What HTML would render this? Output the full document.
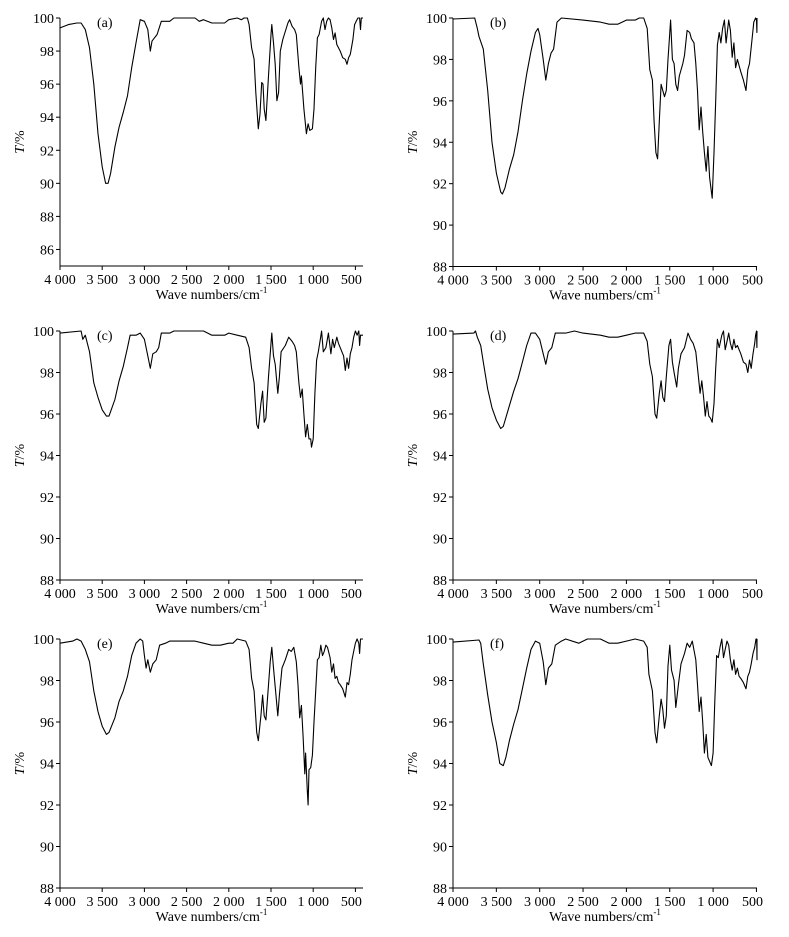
<!DOCTYPE html>
<html><head><meta charset="utf-8"><style>
html,body{margin:0;padding:0;background:#fff;}
svg{display:block;}
svg text{font-family:"Liberation Serif","Times New Roman",serif;}
</style></head><body>
<svg id="s" width="789" height="937" viewBox="0 0 789 937" xmlns="http://www.w3.org/2000/svg" font-family="Liberation Serif, serif"></svg>
<script>
const D={
a:[4000,99.4,3900,99.6,3800,99.7,3750,99.7,3700,99.3,3650,98.2,3600,96,3550,93,3500,91,3460,90.0,3430,90.0,3400,90.6,3350,92.2,3300,93.4,3250,94.3,3200,95.3,3150,97,3100,98.5,3050,99.9,3000,99.8,2960,99.3,2930,98.0,2910,98.6,2880,98.8,2850,99.0,2800,99.8,2700,99.8,2650,100,2400,100,2350,99.8,2300,99.9,2200,99.7,2050,99.7,2000,99.9,1900,100,1850,99.9,1820,100,1780,100,1760,99.6,1730,98.2,1700,97.5,1680,95.5,1650,93.3,1630,94.2,1610,96.1,1595,96.0,1580,94.5,1560,93.8,1530,96.5,1500,99.0,1490,99.6,1470,98.5,1450,97.2,1430,95.0,1410,95.5,1390,98.0,1360,98.7,1300,99.7,1280,99.9,1250,99.5,1220,99.3,1200,99.0,1170,97.0,1150,96.0,1140,96.5,1110,94.5,1080,93.0,1060,93.6,1040,93.2,1010,93.3,990,94.5,970,97,950,98.8,930,99,900,99.8,880,100,860,99.3,840,99.8,820,100,800,99.9,780,99.4,760,98.7,740,99.1,720,98.4,700,98.2,680,98.0,650,97.6,620,97.5,600,97.2,580,97.6,560,97.8,530,98.7,510,99.6,490,99.8,470,100,450,100,440,99.3,430,100,400,100],
b:[4000,99.95,3750,100,3720,99.5,3700,99.1,3650,98.5,3600,96.5,3550,94,3500,92.5,3450,91.6,3430,91.5,3400,91.8,3350,92.7,3300,93.4,3250,94.5,3200,96,3150,97.3,3100,98.4,3050,99.3,3020,99.5,3000,99.2,2960,98,2930,97.0,2900,97.8,2870,98.3,2840,98.5,2800,99.8,2750,100,2500,99.9,2300,99.8,2200,99.7,2100,99.7,2000,99.9,1900,99.9,1850,100,1800,100,1760,99.5,1730,97.5,1700,97.0,1680,95,1660,93.5,1640,93.2,1620,95,1600,96.8,1580,96.5,1560,96.2,1540,96.5,1520,98.0,1500,99.3,1490,99.9,1470,98.0,1450,97.8,1430,96.8,1410,96.5,1390,97.2,1350,97.8,1330,98.2,1300,99.4,1270,99.3,1250,99.0,1220,98.8,1200,97.8,1180,96.5,1160,94.6,1140,95.7,1120,94.5,1100,93.5,1080,92.6,1060,93.8,1040,92.3,1010,91.3,990,93.5,970,96,950,98.7,930,99.3,910,98.8,890,99.5,870,99.9,850,98.8,820,99.9,800,99.4,780,98.1,760,98.8,740,97.6,720,98.0,700,97.7,680,97.4,650,97.0,620,96.5,600,97.5,580,97.8,550,99,530,99.8,510,100,500,99.9,495,99.3,490,100],
c:[4000,99.9,3750,100,3730,99.6,3700,99.8,3650,99,3600,97.5,3550,96.8,3500,96.2,3450,95.9,3420,95.9,3350,96.7,3300,97.6,3250,98.3,3200,99.2,3170,99.8,3100,99.8,3050,99.9,3000,99.6,2960,98.8,2930,98.2,2900,98.9,2860,99.0,2830,99.2,2800,99.9,2700,99.9,2650,100,2300,100,2200,99.8,2050,99.8,2000,99.9,1900,99.8,1800,99.7,1760,99.2,1730,98.2,1700,97.5,1670,95.5,1650,95.3,1620,96.5,1600,97.1,1580,95.6,1560,95.8,1530,97.8,1500,99.4,1490,99.9,1470,98.8,1450,98.4,1420,97.0,1400,97.8,1380,99.0,1330,99.3,1290,99.7,1250,99.5,1220,99.3,1200,99.0,1170,97.5,1150,96.8,1130,97.2,1110,96.0,1090,94.9,1070,95.5,1050,94.8,1030,94.8,1020,94.4,1000,94.8,980,97,960,98.6,940,99.0,920,99.5,900,100,880,99.0,850,99.2,820,99.9,790,98.9,770,99.6,750,99.2,720,99.7,700,99.4,680,99.2,660,99.0,640,98.8,620,98.1,600,98.7,580,98.2,560,98.9,540,99.2,520,99.7,500,100,480,99.8,460,100,450,99.3,440,99.8,400,99.8],
d:[4000,99.85,3760,99.9,3740,100,3720,99.7,3680,99.3,3650,98.5,3600,97.2,3550,96.3,3500,95.7,3450,95.3,3420,95.4,3350,96.4,3300,97.1,3250,97.7,3200,98.5,3150,99.3,3100,99.9,3050,99.9,3000,99.6,2960,98.9,2930,98.4,2900,99.0,2860,99.2,2820,99.9,2700,99.9,2600,100,2500,99.9,2300,99.8,2200,99.7,2100,99.7,2000,99.8,1900,99.9,1800,99.9,1760,99.5,1730,98.4,1700,97.8,1670,96.0,1650,95.8,1620,97.0,1600,97.6,1580,96.8,1560,96.6,1540,97.8,1510,99.3,1490,99.6,1470,98.5,1450,98.0,1420,97.3,1400,98.2,1370,98.9,1330,99.2,1290,99.9,1260,99.6,1230,99.4,1200,99.0,1170,97.8,1150,97.0,1130,97.6,1110,96.8,1090,95.9,1070,96.6,1050,95.9,1030,95.8,1010,95.6,990,96.5,970,98.2,950,99.6,930,99.2,900,99.8,880,100,860,99.1,840,99.5,820,99.9,800,99.4,780,99.1,760,99.6,740,99.2,720,99.3,700,99.1,680,98.9,650,98.5,620,98.4,600,98.0,580,98.6,560,98.2,540,98.9,520,99.4,510,99.8,500,100,495,99.2,490,100],
e:[4000,99.8,3850,99.9,3800,100,3750,99.9,3700,99.5,3650,98.9,3600,97.5,3550,96.5,3500,95.8,3450,95.4,3420,95.5,3350,96.2,3300,97.0,3250,97.5,3200,98.2,3150,99.2,3100,99.8,3050,100,3020,99.9,3000,99.2,2980,98.6,2960,99.0,2930,98.4,2900,98.8,2860,99.0,2820,99.7,2750,99.8,2700,99.9,2400,99.9,2300,99.8,2200,99.7,2100,99.7,2000,99.8,1950,99.8,1900,100,1800,99.9,1760,99.5,1730,98.1,1700,97.5,1670,95.5,1650,95.1,1620,96.3,1600,97.3,1580,96.3,1560,96.1,1540,97.2,1510,98.9,1490,99.6,1470,98.6,1450,97.7,1420,96.3,1400,97.3,1370,98.6,1330,99.0,1290,99.5,1260,99.4,1230,99.6,1200,98.9,1180,97.8,1160,96.2,1140,96.8,1120,95.3,1100,93.5,1090,94.5,1070,92.7,1060,92.0,1050,93.7,1030,93.8,1010,94.4,990,96,970,97.5,950,99.0,930,99.1,910,99.7,890,99.2,870,99.4,850,99.7,830,99.6,800,99.1,780,98.4,760,98.8,740,98.1,720,98.2,700,97.9,680,97.8,650,97.6,620,97.2,600,97.9,580,97.8,560,98.3,540,99.0,520,99.4,500,99.8,480,100,460,99.8,450,99.3,440,100,400,100],
f:[4000,99.85,3700,99.95,3680,99.8,3650,98.8,3600,97.3,3550,96,3500,95.0,3460,94.0,3420,93.9,3390,94.3,3350,95.1,3300,95.9,3250,96.6,3200,97.6,3150,98.6,3100,99.5,3050,99.9,3000,99.8,2960,98.9,2930,97.8,2900,98.6,2860,98.8,2820,99.7,2750,99.9,2700,100,2550,99.8,2450,100,2300,100,2200,99.8,2100,99.8,2000,99.9,1900,100,1800,99.9,1760,99.6,1740,98.3,1700,97.5,1670,95.5,1650,95.0,1620,96.3,1600,97.1,1580,96.6,1560,95.7,1540,96.3,1520,98.7,1500,99.7,1480,98.5,1450,98.0,1430,96.7,1400,97.8,1370,98.8,1330,99.3,1300,99.8,1270,99.6,1240,99.9,1200,99.0,1180,97.8,1160,96.5,1140,97.2,1120,96.0,1100,94.5,1080,95.4,1060,94.3,1040,94.1,1020,93.9,1000,94.5,980,97,960,99.2,940,99.1,920,99.6,900,100,880,99.1,860,99.5,840,99.9,820,99.7,800,99.0,780,98.5,760,99.0,740,98.3,720,98.6,700,98.2,680,98.1,650,97.9,620,97.6,600,98.2,580,98.4,560,98.8,540,99.3,520,99.6,505,100,497,100,494,99.0,490,100]
};
const P=[
{k:'a',x0:60,x1:363,s:0.0844,top:18,bot:266,ymin:85},
{k:'b',x0:453,x1:757,s:0.0867,top:18,bot:266.5,ymin:88},
{k:'c',x0:60,x1:363,s:0.0844,top:331,bot:580,ymin:88},
{k:'d',x0:453,x1:757,s:0.0867,top:331,bot:580,ymin:88},
{k:'e',x0:60,x1:363,s:0.0844,top:639,bot:888,ymin:88},
{k:'f',x0:453,x1:757,s:0.0867,top:639,bot:888,ymin:88}];
const F='font-family="Liberation Serif, Times New Roman, serif"';
let h='';
for(const p of P){
 const X=w=>Math.min(p.x1,p.x0+(4000-w)*p.s);
 const Y=t=>p.bot-(t-p.ymin)/(100-p.ymin)*(p.bot-p.top);
 h+=`<path d="M${p.x0},${p.top}V${p.bot}H${p.x1}" fill="none" stroke="#000" stroke-width="1"/>`;
 for(let t=p.ymin%2?p.ymin+1:p.ymin;t<=100;t+=2){const y=Y(t);
  h+=`<line x1="${p.x0-4}" y1="${y}" x2="${p.x0}" y2="${y}" stroke="#000"/>`;
  h+=`<text ${F} x="${p.x0-6}" y="${y+5}" font-size="14" text-anchor="end">${t}</text>`;}
 const lab=['4 000','3 500','3 000','2 500','2 000','1 500','1 000','500'];
 for(let i=0;i<8;i++){const w=4000-500*i,x=X(w);
  h+=`<line x1="${x}" y1="${p.bot}" x2="${x}" y2="${p.bot+4}" stroke="#000"/>`;
  h+=`<text ${F} x="${i==7?x-4:x}" y="${p.bot+18}" font-size="14" text-anchor="middle">${lab[i]}</text>`;}
 h+=`<text ${F} x="${(p.x0+p.x1)/2}" y="${p.bot+33}" font-size="14" text-anchor="middle">Wave numbers/cm<tspan dy="-6" font-size="9">-1</tspan></text>`;
 const ly=(p.top+p.bot)/2, lx=p.x0-36;
 h+=`<text ${F} transform="translate(${lx},${ly}) rotate(-90)" font-size="14" text-anchor="middle"><tspan font-style="italic">T</tspan>/%</text>`;
 h+=`<text ${F} x="${p.x0+37}" y="${p.top+9}" font-size="14">(${p.k})</text>`;
 const d=D[p.k];let s='';
 for(let i=0;i<d.length;i+=2)s+=(i?'L':'M')+X(d[i]).toFixed(1)+','+Y(d[i+1]).toFixed(1);
 h+=`<path d="${s}" fill="none" stroke="#000" stroke-width="1.1" stroke-linejoin="round"/>`;
}
document.getElementById('s').innerHTML=h;
</script>
</body></html>
